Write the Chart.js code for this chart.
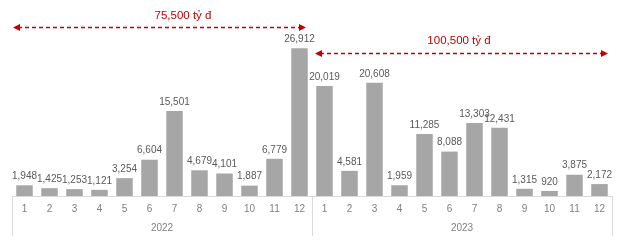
<!DOCTYPE html>
<html>
<head>
<meta charset="utf-8">
<script src="https://cdn.jsdelivr.net/npm/chart.js@4.4.1/dist/chart.umd.min.js"></script>
<style>
  html, body { margin: 0; padding: 0; background: #fff; }
  #wrap { width: 624px; height: 241px; }
</style>
</head>
<body>
<div id="wrap"><canvas id="chart"></canvas></div>
<script>
// monthly values, 2022 then 2023
const months = ['1','2','3','4','5','6','7','8','9','10','11','12'];
const years = ['2022', '2023'];
const values2022 = [1948, 1425, 1253, 1121, 3254, 6604, 15501, 4679, 4101, 1887, 6779, 26912];
const values2023 = [20019, 4581, 20608, 1959, 11285, 8088, 13303, 12431, 1315, 920, 3875, 2172];
const totals = ['75,500 tỷ đ', '100,500 tỷ đ'];

const labels = years.flatMap(y => months.map(m => m + '/' + y));
const allValues = values2022.concat(values2023);

const FONT = '"Liberation Sans", Arial, sans-serif';

// value labels above bars
const barLabels = {
    id: 'barLabels',
    afterDatasetsDraw(chart) {
        const ctx = chart.ctx;
        const meta = chart.getDatasetMeta(0);
        ctx.save();
        ctx.font = '10px ' + FONT;
        ctx.fillStyle = '#595959';
        ctx.textAlign = 'center';
        ctx.textBaseline = 'bottom';
        meta.data.forEach((bar, i) => {
            ctx.fillText(allValues[i].toLocaleString('en-US'), bar.x, bar.y - 4);
        });
        ctx.restore();
    }
};

// two-level category axis under the bars
const groupAxis = {
    id: 'groupAxis',
    afterDraw(chart) {
        const ctx = chart.ctx;
        const x = chart.scales.x;
        const bottom = chart.chartArea.bottom;
        ctx.save();
        ctx.strokeStyle = '#d9d9d9';
        ctx.lineWidth = 1;
        ctx.beginPath();
        ctx.moveTo(x.getPixelForValue(-0.5), bottom + 0.5);
        ctx.lineTo(x.getPixelForValue(23.5), bottom + 0.5);
        [-0.5, 11.5, 23.5].forEach(v => {
            const px = Math.round(x.getPixelForValue(v)) + 0.5;
            ctx.moveTo(px, bottom);
            ctx.lineTo(px, bottom + 40);
        });
        ctx.stroke();

        ctx.font = '10px ' + FONT;
        ctx.fillStyle = '#7f7f7f';
        ctx.textAlign = 'center';
        ctx.textBaseline = 'middle';
        labels.forEach((l, i) => {
            ctx.fillText(months[i % 12], x.getPixelForValue(i), bottom + 13);
        });
        years.forEach((y, k) => {
            ctx.fillText(y, x.getPixelForValue(k * 12 + 5.5), bottom + 32);
        });
        ctx.restore();
    }
};

// dashed double arrows with yearly totals
const totalArrows = {
    id: 'totalArrows',
    afterDraw(chart) {
        const ctx = chart.ctx;
        const x = chart.scales.x;
        const y = chart.scales.y;
        const spans = [
            { from: -0.46, to: 11.26, textAt: 6.34, lineVal: 30750, textVal: 32750 },
            { from: 11.62, to: 23.34, textAt: 17.38, lineVal: 26000, textVal: 28200 }
        ];
        ctx.save();
        ctx.strokeStyle = '#c00000';
        ctx.fillStyle = '#c00000';
        ctx.lineWidth = 1.5;
        spans.forEach((s, k) => {
            const x1 = x.getPixelForValue(s.from);
            const x2 = x.getPixelForValue(s.to);
            const py = Math.round(y.getPixelForValue(s.lineVal)) + 0.5;
            ctx.setLineDash([4, 3]);
            ctx.beginPath();
            ctx.moveTo(x1 + 5, py);
            ctx.lineTo(x2 - 5, py);
            ctx.stroke();
            ctx.setLineDash([]);
            ctx.beginPath();
            ctx.moveTo(x1, py);
            ctx.lineTo(x1 + 7, py - 3.5);
            ctx.lineTo(x1 + 7, py + 3.5);
            ctx.closePath();
            ctx.moveTo(x2, py);
            ctx.lineTo(x2 - 7, py - 3.5);
            ctx.lineTo(x2 - 7, py + 3.5);
            ctx.closePath();
            ctx.fill();

            ctx.font = '11.5px ' + FONT;
            ctx.textAlign = 'center';
            ctx.textBaseline = 'middle';
            ctx.fillText(totals[k], x.getPixelForValue(s.textAt), y.getPixelForValue(s.textVal));
        });
        ctx.restore();
    }
};

new Chart(document.getElementById('chart'), {
    type: 'bar',
    data: {
        labels: labels,
        datasets: [{
            data: allValues,
            backgroundColor: '#a6a6a6',
            borderWidth: 0,
            barPercentage: 0.66,
            categoryPercentage: 1.0
        }]
    },
    options: {
        responsive: true,
        maintainAspectRatio: false,
        animation: false,
        layout: {
            padding: { left: 12, right: 12, top: 0, bottom: 45 }
        },
        scales: {
            x: { display: false },
            y: { display: false, min: 0, max: 35700 }
        },
        plugins: {
            legend: { display: false },
            tooltip: { enabled: false }
        }
    },
    plugins: [barLabels, groupAxis, totalArrows]
});
</script>
</body>
</html>
